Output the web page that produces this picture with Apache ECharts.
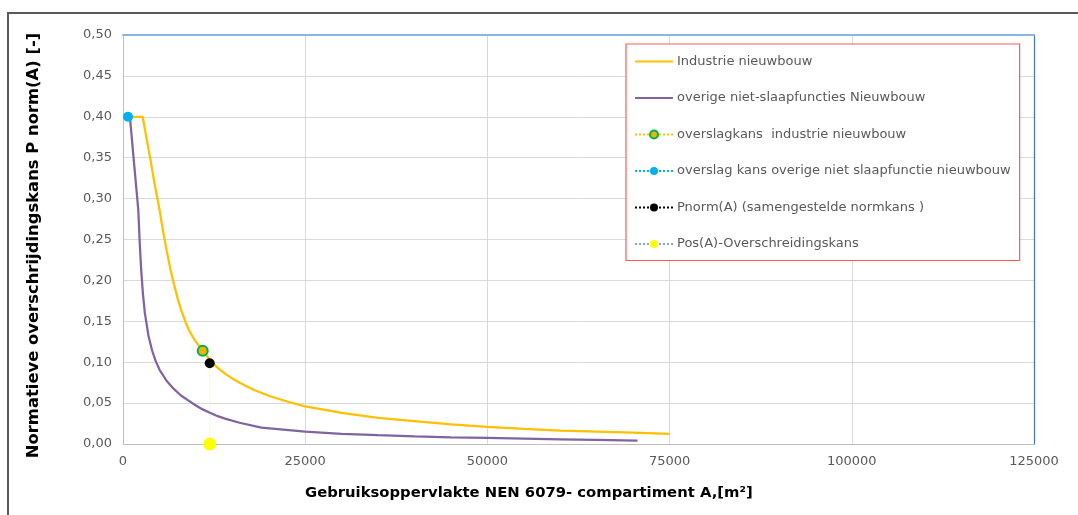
<!DOCTYPE html>
<html>
<head>
<meta charset="utf-8">
<script src="https://cdn.jsdelivr.net/npm/echarts@6/dist/echarts.min.js"></script>
<style>html,body{margin:0;padding:0;background:#fff}#c{width:1078px;height:515px}</style>
</head>
<body>
<div id="c"></div>
<script>
// ---- data ----
const seriesNames = [
  'Industrie nieuwbouw',
  'overige niet-slaapfuncties Nieuwbouw',
  'overslagkans  industrie nieuwbouw',
  'overslag kans overige niet slaapfunctie nieuwbouw',
  'Pnorm(A) (samengestelde normkans )',
  'Pos(A)-Overschreidingskans'
];
const industrie = [
  [800,0.40],[2700,0.40],[3200,0.375],[3700,0.351],[4300,0.32],[5000,0.287],[5500,0.26],
  [6000,0.236],[6500,0.214],[7000,0.195],[7500,0.178],[8000,0.163],[8500,0.151],[9000,0.140],
  [9500,0.132],[10000,0.125],[11000,0.114],[12000,0.102],[13000,0.093],[14000,0.086],
  [15000,0.080],[16000,0.075],[18000,0.066],[20000,0.059],[22500,0.052],[25000,0.046],
  [27500,0.042],[30000,0.038],[35000,0.032],[40000,0.028],[45000,0.024],[50000,0.021],
  [55000,0.0185],[60000,0.0163],[65000,0.015],[70000,0.0138],[75000,0.0125]
];
const overige = [
  [950,0.40],[1500,0.345],[2100,0.286],[2300,0.245],[2500,0.212],[2750,0.182],[3000,0.16],
  [3500,0.132],[4000,0.114],[4500,0.101],[5000,0.091],[6000,0.077],[7000,0.067],[8000,0.059],
  [9000,0.053],[10000,0.047],[11000,0.042],[12000,0.038],[13000,0.034],[14000,0.031],
  [16000,0.026],[19000,0.020],[22000,0.0175],[25000,0.015],[30000,0.0125],[35000,0.0107],
  [40000,0.0093],[45000,0.0082],[50000,0.0074],[55000,0.0066],[60000,0.0058],[65000,0.005],
  [70600,0.004]
];
const overslagIndustrie = [[10935,0.114]];
const overslagOverige = [[690,0.40]];
const pnorm = [[11900,0.0987]];
const pos = [[11900,0]];
const xTicks = [0,25000,50000,75000,100000,125000];
const yTicks = [0,0.05,0.10,0.15,0.20,0.25,0.30,0.35,0.40,0.45,0.50];
const xTitle = 'Gebruiksoppervlakte NEN 6079- compartiment A,[m²]';
const yTitle = 'Normatieve overschrijdingskans P norm(A) [-]';

const FONT = 'DejaVu Sans';
const chart = echarts.init(document.getElementById('c'));
chart.setOption({
  animation: false,
  backgroundColor: '#fff',
  grid: {left: 123, right: 44, top: 35, bottom: 71},
  xAxis: [{
    type: 'value', min: xTicks[0], max: xTicks[xTicks.length-1], interval: 25000,
    axisLine: {show: true, lineStyle: {color: '#bfbfbf', width: 1}},
    axisTick: {show: false},
    axisLabel: {color: '#595959', fontSize: 13, fontFamily: FONT, margin: 11,
      formatter: v => String(v)},
    splitLine: {show: true, lineStyle: {color: '#d9d9d9', width: 1}}
  }, {
    type: 'value', position: 'top', min: xTicks[0], max: xTicks[xTicks.length-1], interval: 25000,
    axisLine: {show: true, onZero: false, lineStyle: {color: '#8eb4e3', width: 2}},
    axisTick: {show: false}, axisLabel: {show: false}, splitLine: {show: false}
  }],
  yAxis: [{
    type: 'value', min: yTicks[0], max: yTicks[yTicks.length-1], interval: 0.05,
    axisLine: {show: true, lineStyle: {color: '#bfbfbf', width: 1}},
    axisTick: {show: false},
    axisLabel: {color: '#595959', fontSize: 13, fontFamily: FONT, margin: 11,
      formatter: v => v.toFixed(2).replace('.', ',')},
    splitLine: {show: true, lineStyle: {color: '#d9d9d9', width: 1}},
    name: yTitle, nameLocation: 'middle', nameGap: 81, nameRotate: 90,
    nameTextStyle: {color: '#000', fontSize: 16.4, fontWeight: 'bold', fontFamily: FONT,
      padding: [0, 12, 0, 0]}
  }, {
    type: 'value', position: 'right', min: 0, max: 0.5, interval: 0.05,
    axisLine: {show: true, onZero: false, lineStyle: {color: '#4472c4', width: 1.2}},
    axisTick: {show: false}, axisLabel: {show: false}, splitLine: {show: false}
  }],
  legend: {
    orient: 'vertical', left: 626, top: 44,
    padding: [11, 9, 10, 8],
    itemWidth: 38, itemHeight: 10, itemGap: 23.5,
    borderColor: '#ff5a5a', borderWidth: 1.2,
    backgroundColor: '#fff',
    textStyle: {color: '#595959', fontSize: 13, fontFamily: FONT, padding: [0,0,0,-1]},
    data: [
      {name: seriesNames[0], itemStyle: {opacity: 0}},
      {name: seriesNames[1], itemStyle: {opacity: 0}},
      {name: seriesNames[2]},
      {name: seriesNames[3]},
      {name: seriesNames[4]},
      {name: seriesNames[5]}
    ]
  },
  graphic: [
    {type: 'polyline', shape: {points: [[8,515],[8,13],[1078,13]]},
      style: {stroke: '#595959', lineWidth: 2, fill: null}, silent: true},
    {type: 'text', left: 305, top: 486,
      style: {text: xTitle, fill: '#000', font: 'bold 14.8px "DejaVu Sans"'}}
  ],
  series: [
    {name: seriesNames[0], type: 'line', data: industrie, showSymbol: false, symbol: 'none',
      smooth: false,
      lineStyle: {color: '#ffc000', width: 2.25}, itemStyle: {color: '#ffc000'}, z: 2},
    {name: seriesNames[1], type: 'line', data: overige, showSymbol: false, symbol: 'none',
      smooth: false,
      lineStyle: {color: '#8064a2', width: 2.25}, itemStyle: {color: '#8064a2'}, z: 2},
    {name: 'drop', type: 'line', data: [pnorm[0], pos[0]], symbol: 'none',
      lineStyle: {color: '#fff1a8', width: 1, type: 'dotted'}, z: 1},
    {name: seriesNames[2], type: 'line', data: overslagIndustrie, symbol: 'circle', symbolSize: 10,
      lineStyle: {color: '#ffc000', width: 1.5, type: 'dotted'},
      itemStyle: {color: '#f0b400', borderColor: '#00b050', borderWidth: 2}, z: 5},
    {name: seriesNames[3], type: 'line', data: overslagOverige, symbol: 'circle', symbolSize: 10,
      lineStyle: {color: '#00b0f0', width: 1.5, type: 'dotted'},
      itemStyle: {color: '#00b0f0'}, z: 5},
    {name: seriesNames[4], type: 'line', data: pnorm, symbol: 'circle', symbolSize: 10,
      lineStyle: {color: '#000000', width: 1.5, type: 'dotted'},
      itemStyle: {color: '#000000'}, z: 5},
    {name: seriesNames[5], type: 'line', data: pos, symbol: 'circle', symbolSize: 13,
      lineStyle: {color: '#7fa7de', width: 1.5, type: 'dotted'},
      itemStyle: {color: '#ffff00'}, z: 5}
  ]
});
</script>
</body>
</html>
